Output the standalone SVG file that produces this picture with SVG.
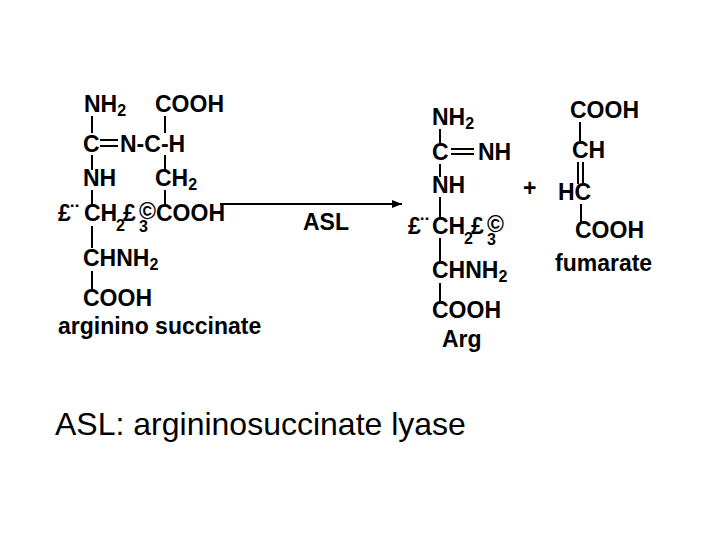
<svg xmlns="http://www.w3.org/2000/svg" width="720" height="540" viewBox="0 0 720 540">
<defs><style>
text{font-family:"Liberation Sans",Arial,sans-serif;fill:#000}
.b{font-weight:bold;font-size:23px}
.s{font-size:16px}
line{stroke:#000;stroke-width:2}
</style>
<marker id="ah" markerWidth="10" markerHeight="8" refX="10" refY="4" orient="auto" markerUnits="userSpaceOnUse"><path d="M0,0L10,4L0,8z"/></marker></defs>
<rect width="720" height="540" fill="#fff"/>
<g id="argininosuccinate">
<text class="b" x="84" y="112">NH<tspan class="s" dy="4">2</tspan></text>
<text class="b" x="155" y="112">COOH</text>
<text class="b" x="83" y="152">C</text>
<text class="b" x="120" y="152">N-C-H</text>
<text class="b" x="83" y="186">NH</text>
<text class="b" x="155" y="186">CH<tspan class="s" dy="4">2</tspan></text>
<text class="b" x="58" y="221" font-size="18">£¨</text>
<text class="b" x="84" y="221">CH</text>
<text class="b" x="123" y="221" font-size="17">£</text>
<text class="b" x="139" y="219" font-size="14">©</text>
<text class="s" x="116" y="231" font-weight="bold">2</text>
<text class="s" x="139" y="232" font-weight="bold">3</text>
<text class="b" x="156" y="221">COOH</text>
<text class="b" x="83" y="266">CHNH<tspan class="s" dy="4">2</tspan></text>
<text class="b" x="83" y="306">COOH</text>
<text class="b" x="58" y="334">arginino succinate</text>
</g>
<g id="arg">
<text class="b" x="432" y="125">NH<tspan class="s" dy="4">2</tspan></text>
<text class="b" x="432" y="160">C</text>
<text class="b" x="478" y="160">NH</text>
<text class="b" x="432" y="193">NH</text>
<text class="b" x="408" y="234" font-size="18">£¨</text>
<text class="b" x="432" y="234">CH</text>
<text class="b" x="471" y="234" font-size="17">£</text>
<text class="b" x="487" y="232" font-size="14">©</text>
<text class="s" x="464" y="244" font-weight="bold">2</text>
<text class="s" x="487" y="245" font-weight="bold">3</text>
<text class="b" x="432" y="278">CHNH<tspan class="s" dy="4">2</tspan></text>
<text class="b" x="432" y="318">COOH</text>
<text class="b" x="442" y="347">Arg</text>
</g>
<text class="b" x="523" y="196">+</text>
<g id="fumarate">
<text class="b" x="570" y="118">COOH</text>
<text class="b" x="572" y="158">CH</text>
<text class="b" x="558" y="200">HC</text>
<text class="b" x="575" y="238">COOH</text>
<text class="b" x="555" y="271">fumarate</text>
</g>
<text x="55" y="435" font-size="32">ASL: argininosuccinate lyase</text>
<g id="connectors">
<line x1="92" y1="116" x2="92" y2="133"/>
<line x1="92" y1="155" x2="92" y2="170"/>
<line x1="92" y1="190" x2="92" y2="206"/>
<line x1="92" y1="226" x2="92" y2="248"/>
<line x1="92" y1="271" x2="92" y2="290"/>
<line x1="100" y1="140" x2="118" y2="140"/>
<line x1="100" y1="146" x2="118" y2="146"/>
<line x1="165" y1="116" x2="165" y2="133"/>
<line x1="165" y1="155" x2="165" y2="170"/>
<line x1="165" y1="190" x2="165" y2="205"/>
<line x1="440" y1="129" x2="440" y2="143"/>
<line x1="440" y1="164" x2="440" y2="177"/>
<line x1="440" y1="197" x2="440" y2="218"/>
<line x1="440" y1="238" x2="440" y2="262"/>
<line x1="440" y1="283" x2="440" y2="302"/>
<line x1="451" y1="149" x2="474" y2="149"/>
<line x1="451" y1="154" x2="474" y2="154"/>
<line x1="580" y1="122" x2="580" y2="141"/>
<line x1="578" y1="162" x2="578" y2="184"/>
<line x1="583" y1="162" x2="583" y2="184"/>
<line x1="581" y1="204" x2="581" y2="222"/>
<line x1="220" y1="204" x2="402" y2="204" marker-end="url(#ah)"/>
<text class="b" x="303" y="230">ASL</text>
</g>
</svg>
